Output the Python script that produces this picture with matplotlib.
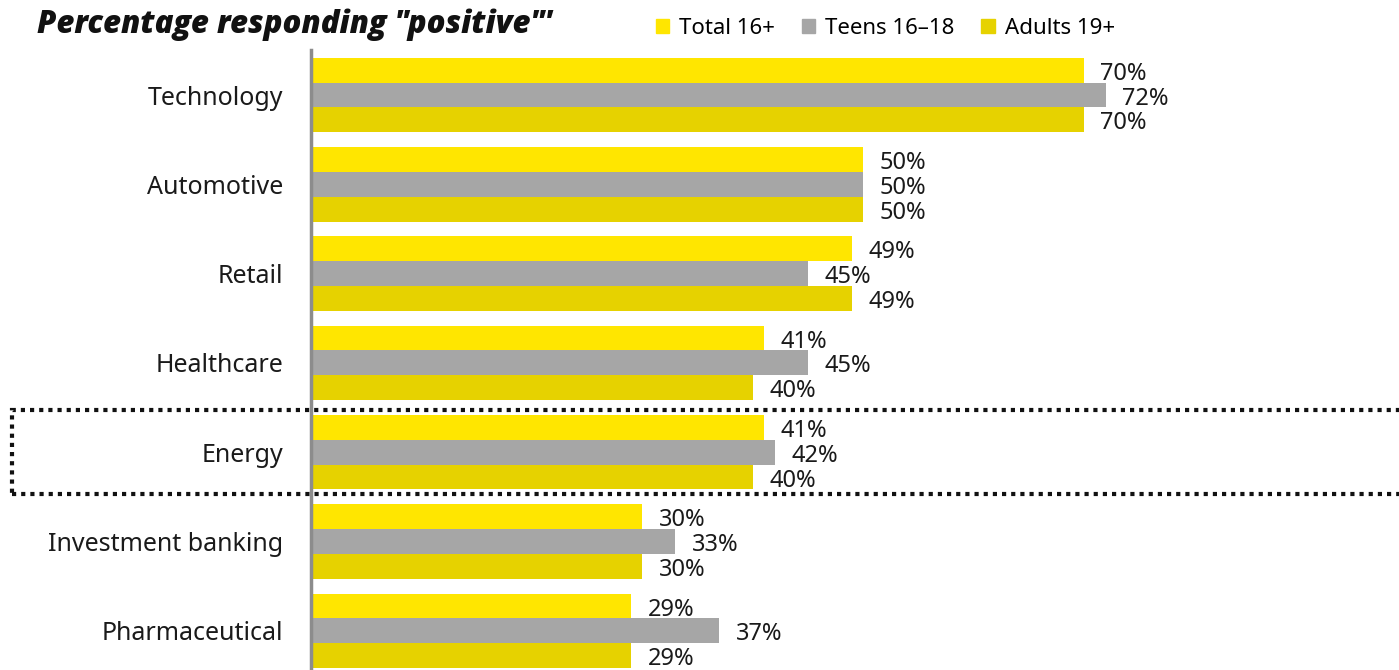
import matplotlib
matplotlib.use('Agg')
import matplotlib.pyplot as plt
from matplotlib.patches import Rectangle, Patch
import numpy as np

#%% datos
categories = ['Technology', 'Automotive', 'Retail', 'Healthcare', 'Energy',
              'Investment banking', 'Pharmaceutical']
total_16 = [70, 50, 49, 41, 41, 30, 29]
teens_16_18 = [72, 50, 45, 45, 42, 33, 37]
adults_19 = [70, 50, 49, 40, 40, 30, 29]
series_names = ['Total 16+', 'Teens 16\u201318', 'Adults 19+']
colors = ['#FFE600', '#A6A6A6', '#E6D200']
highlight = 'Energy'

plt.rcParams['font.family'] = ['Noto Sans', 'DejaVu Sans']

#%% grafica
fig = plt.figure(figsize=(13.99, 6.70), dpi=100)
ax = fig.add_axes([311 / 1399, 0, 1 - 311 / 1399, 620 / 670])

y = np.arange(len(categories))
h = 0.278
series = [total_16, teens_16_18, adults_19]
for k, vals in enumerate(series):
    pos = y + (k - 1) * h
    ax.barh(pos, vals, height=h, color=colors[k], edgecolor='none',
            label=series_names[k])
    for p, v in zip(pos, vals):
        ax.text(v + 1.5, p + 0.04, f'{v}%', va='center', ha='left',
                fontsize=17, color='#1a1a1a')

ax.set_xlim(0, (1399 - 311) / 11.04)
ax.set_ylim(6.439, -0.504)
ax.set_yticks(y)
ax.set_yticklabels(categories, fontsize=18, color='#1a1a1a')
ax.tick_params(axis='y', length=0, pad=20)
ax.set_xticks([])
for s in ['top', 'right', 'bottom']:
    ax.spines[s].set_visible(False)
ax.spines['left'].set_color('#8c8c8c')
ax.spines['left'].set_linewidth(2.5)

# recuadro punteado para Energy
i = categories.index(highlight)
y_top = (95 + 89.3 * i - 42)
rect = Rectangle((12 / 1399, 1 - (y_top + 84) / 670), 1.2, 84 / 670,
                 transform=fig.transFigure, fill=False, edgecolor='#111111',
                 linewidth=3, linestyle=(0, (1, 1.2)), clip_on=False)
fig.patches.append(rect)

fig.text(37 / 1399, 1 - 25 / 670, 'Percentage responding "positive"\'',
         fontsize=22.4, fontweight='heavy', fontstyle='italic', va='center',
         ha='left', color='#111111', family=['Open Sans', 'DejaVu Sans'])

handles = [Patch(color=c, label=n) for c, n in zip(colors, series_names)]
fig.legend(handles=handles, loc='center left',
           bbox_to_anchor=(656 / 1399, 1 - 28 / 670), ncol=3, frameon=False,
           fontsize=16, handlelength=0.6, handleheight=0.6, handletextpad=0.45,
           columnspacing=1.2, borderaxespad=0, borderpad=0)

fig.savefig('out.png', dpi=100)
